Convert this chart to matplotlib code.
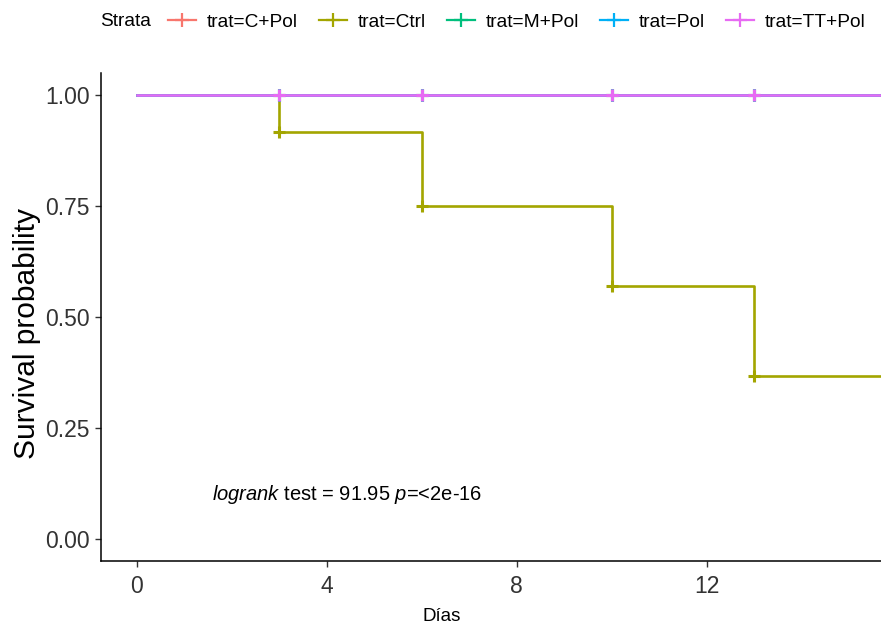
import numpy as np
import matplotlib.pyplot as plt
from matplotlib.lines import Line2D

plt.rcParams['font.family'] = ['Liberation Sans', 'DejaVu Sans']
plt.rcParams['mathtext.fontset'] = 'custom'
plt.rcParams['mathtext.rm'] = 'Liberation Sans'
plt.rcParams['mathtext.it'] = 'Liberation Sans:italic'

# datos de supervivencia (Kaplan-Meier) por tratamiento
strata = ['trat=C+Pol', 'trat=Ctrl', 'trat=M+Pol', 'trat=Pol', 'trat=TT+Pol']
colores = ['#F8766D', '#A3A500', '#00BF7D', '#00B0F6', '#E76BF3']
tiempo = [0, 3, 6, 10, 13, 16]
surv_ctrl = [1.0, 0.917, 0.75, 0.571, 0.367, 0.367]
surv_resto = [1.0, 1.0, 1.0, 1.0, 1.0, 1.0]
censura_t = [3, 6, 10, 13]
censura_ctrl = [0.917, 0.75, 0.571, 0.367]
censura_resto = [1.0, 1.0, 1.0, 1.0]

W, H = 881, 628
fig = plt.figure(figsize=(W / 100, H / 100), dpi=100)
ax = fig.add_axes([101 / W, 1 - 561 / H, (885 - 101) / W, (561 - 73) / H])

for nombre, color in zip(strata, colores):
    if nombre == 'trat=Ctrl':
        s, c = surv_ctrl, censura_ctrl
    else:
        s, c = surv_resto, censura_resto
    ax.step(tiempo, s, where='post', color=color, lw=1.9)
    ax.plot(censura_t, c, ls='none', marker='+', ms=9, mew=2.2, color=color)

ax.set_xlim(-0.75, 15.75)
ax.set_ylim(-0.05, 1.05)
ax.set_xticks([0, 4, 8, 12])
ax.set_yticks([0, 0.25, 0.5, 0.75, 1.0])
ax.set_yticklabels(['0.00', '0.25', '0.50', '0.75', '1.00'])
ax.tick_params(labelsize=16.5, length=4, width=1, color='#333333', labelcolor='#333333')
ax.tick_params(axis='y', pad=4)
ax.tick_params(axis='x', pad=6)
for lado in ['top', 'right']:
    ax.spines[lado].set_visible(False)
for lado in ['left', 'bottom']:
    ax.spines[lado].set_linewidth(1.1)

ax.set_ylabel('Survival probability', fontsize=21.5)
ax.yaxis.set_label_coords(-0.076, 0.466)
ax.set_xlabel('Días', fontsize=13.5)
ax.xaxis.set_label_coords(0.435, -0.097)

ax.text(1.58, 0.10, r'$\mathit{logrank}$ test = 91.95 $\mathit{p}$=<2e-16',
        fontsize=14.5, va='center', ha='left')

# leyenda horizontal arriba
fig.text(100 / W, 1 - 22 / H, 'Strata', fontsize=13.8, va='center', ha='left')
handles = [Line2D([0], [0], color=c, lw=1.6, marker='+', ms=10, mew=1.6) for c in colores]
fig.legend(handles, strata, loc='center left', bbox_to_anchor=(168 / W, 1 - 22 / H),
           ncol=5, frameon=False, fontsize=13.8, handlelength=1.45, handletextpad=0.57,
           columnspacing=1.1, borderaxespad=0, borderpad=0)

fig.savefig('out.png', dpi=100)
